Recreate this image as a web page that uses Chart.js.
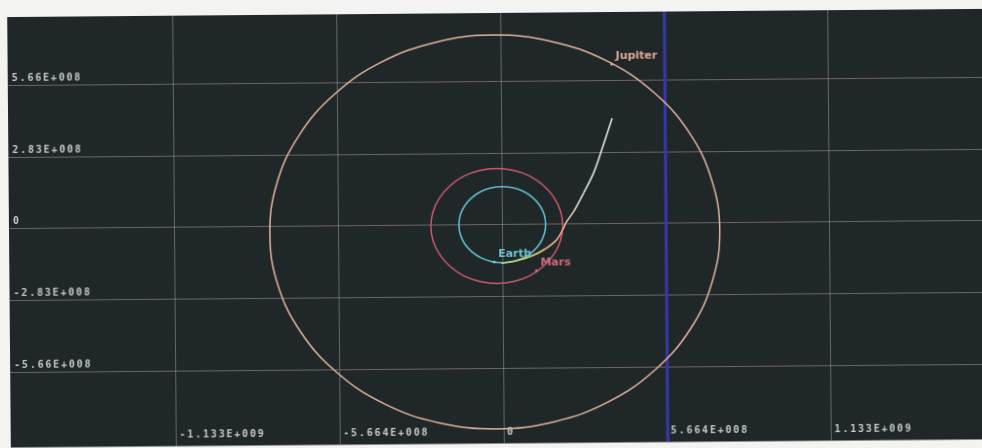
<!DOCTYPE html>
<html>
<head>
<meta charset="utf-8">
<script src="https://cdn.jsdelivr.net/npm/chart.js@4/dist/chart.umd.min.js"></script>
<style>
  html, body { margin: 0; padding: 0; background: #f3f3f1; width: 982px; height: 448px; overflow: hidden; }
  #orbits {
    position: absolute; left: 0; top: 0;
    transform: rotate(-0.48deg);
    transform-origin: 494px 228px;
  }
</style>
</head>
<body>
<canvas id="orbits" width="990" height="448"></canvas>
<script>
// Heliocentric ecliptic positions, in millions of km

// Axis ranges and tick marks
const xMin = -1706.3, xMax = 1686.9;
const yMin = -864.2, yMax = 836.2;
const xTickValues = [-1132.8, -566.4, 0, 566.4, 1132.8];
const xTickLabels = ['-1.133E+009', '-5.664E+008', '0', '5.664E+008', '1.133E+009'];
const yTickValues = [-566.4, -283.2, 0, 283.2, 566.4];
const yTickLabels = ['-5.66E+008', '-2.83E+008', '0', '2.83E+008', '5.66E+008'];

// Orbit of the Earth (the first and last points overlap the loop seam)
const earthOrbitX = [145, 150, 145, 130, 106, 75, 39, 0, -39, -75, -106, -130, -145, -150, -145, -130, -106, -75, -39, 0, 39, 75, 106, 130, 145, 150, 145];
const earthOrbitY = [-39, 0, 39, 75, 106, 130, 145, 150, 145, 130, 106, 75, 39, 0, -39, -75, -106, -130, -145, -150, -145, -130, -106, -75, -39, 0, 39];

// Orbit of Mars
const marsOrbitX = [201, 209, 201, 178, 142, 95, 40, -19, -78, -133, -180, -216, -239, -247, -239, -216, -180, -133, -78, -19, 40, 95, 142, 178, 201, 209, 201];
const marsOrbitY = [-64, -5, 54, 108, 155, 192, 214, 222, 214, 192, 155, 108, 54, -5, -64, -118, -165, -202, -224, -232, -224, -202, -165, -118, -64, -5, 54];

// Orbit of Jupiter
const jupiterOrbitX = [725, 752, 725, 648, 524, 363, 175, -26, -227, -415, -576, -700, -778, -804, -778, -700, -576, -415, -227, -26, 175, 363, 524, 648, 725, 752, 725];
const jupiterOrbitY = [-230, -29, 172, 360, 521, 645, 722, 749, 722, 645, 521, 360, 172, -29, -230, -418, -579, -703, -780, -807, -780, -703, -579, -418, -230, -29, 172];

// Spacecraft trajectory, leaving the Earth
const trajectoryX = [-5, 47, 99, 150, 189, 213, 220, 248, 283, 318, 347, 383];
const trajectoryY = [-152, -143, -126, -96, -60, -13, 5, 51, 124, 203, 295, 417];

// Current planet positions
const planetNames = ['Earth', 'Mars', 'Jupiter'];
const planetX = [-29, 117, 383];
const planetY = [-147, -183, 631];

// Reference meridian marker
const markerX = [566.4];

const toPoints = (xs, ys) => xs.map((x, i) => ({ x, y: ys[i] }));

const planetColors = ['#6cc3d2', '#d26a7a', '#e0a898'];
const trajectoryColors = ['#b8d878', '#d6e070', '#e8cc78', '#e8ae86', '#e8a084', '#e8b090',
                          '#e2d0b4', '#e0ddd2', '#e2e2da', '#e2e2da', '#e0e0d6', '#e0e0d6'];

// Closed orbit: hide the two overlapping seam segments so the curve joins smoothly
const orbitSegment = (color, n) => ({
  borderColor: c => (c.p0DataIndex === 0 || c.p1DataIndex === n - 1) ? 'rgba(0,0,0,0)' : color
});

const plotBackground = {
  id: 'plotBackground',
  beforeDraw(chart) {
    const { ctx, chartArea: a } = chart;
    ctx.save();
    ctx.fillStyle = '#1f2729';
    ctx.fillRect(a.left, a.top, a.right - a.left, a.bottom - a.top);
    ctx.restore();
    // wide-set tick lettering
    ctx.letterSpacing = '1.8px';
  }
};

const planetLabels = {
  id: 'planetLabels',
  afterDatasetsDraw(chart) {
    const meta = chart.getDatasetMeta(1);
    const ctx = chart.ctx;
    ctx.save();
    ctx.letterSpacing = '0px';
    ctx.font = 'bold 11px "DejaVu Sans"';
    ctx.textAlign = 'left';
    ctx.textBaseline = 'middle';
    meta.data.forEach((pt, i) => {
      ctx.fillStyle = planetColors[i];
      ctx.fillText(planetNames[i], pt.x + 4, pt.y - 8);
    });
    ctx.restore();
  }
};

const tickFont = { family: 'DejaVu Sans Mono', size: 10, weight: 'bold' };
const n = earthOrbitX.length;

new Chart(document.getElementById('orbits'), {
  type: 'scatter',
  data: {
    datasets: [
      {
        label: 'Trajectory',
        data: toPoints(trajectoryX, trajectoryY),
        showLine: true, tension: 0.35, borderWidth: 1.6, pointRadius: 0, hoverRadius: 0,
        borderColor: '#e0e0d6',
        segment: { borderColor: c => trajectoryColors[c.p0DataIndex] }
      },
      {
        label: 'Planets',
        data: toPoints(planetX, planetY),
        showLine: false, pointRadius: 1.5, hoverRadius: 0, borderWidth: 0,
        backgroundColor: planetColors
      },
      {
        label: 'Earth orbit',
        data: toPoints(earthOrbitX, earthOrbitY),
        showLine: true, tension: 0.4, borderWidth: 1.6, pointRadius: 0, hoverRadius: 0,
        borderColor: '#5fbccc', segment: orbitSegment('#5fbccc', n)
      },
      {
        label: 'Mars orbit',
        data: toPoints(marsOrbitX, marsOrbitY),
        showLine: true, tension: 0.4, borderWidth: 1.5, pointRadius: 0, hoverRadius: 0,
        borderColor: '#c85a6c', segment: orbitSegment('#c85a6c', n)
      },
      {
        label: 'Jupiter orbit',
        data: toPoints(jupiterOrbitX, jupiterOrbitY),
        showLine: true, tension: 0.4, borderWidth: 1.5, pointRadius: 0, hoverRadius: 0,
        borderColor: '#e6b29c', segment: orbitSegment('#e6b29c', n)
      },
      {
        label: 'Marker',
        data: [{ x: markerX[0], y: yMin }, { x: markerX[0], y: yMax }],
        showLine: true, borderWidth: 3, pointRadius: 0, hoverRadius: 0,
        borderColor: '#3838a8'
      }
    ]
  },
  options: {
    responsive: false,
    animation: false,
    devicePixelRatio: 1,
    layout: { autoPadding: false, padding: { left: 9, top: 13, right: 0, bottom: 4.5 } },
    plugins: { legend: { display: false }, tooltip: { enabled: false } },
    scales: {
      x: {
        type: 'linear', position: 'bottom', min: xMin, max: xMax,
        afterBuildTicks: s => { s.ticks = xTickValues.map(v => ({ value: v })); },
        afterFit: s => { s.height = 0; s.paddingLeft = 0; s.paddingRight = 0; s.paddingTop = 0; s.paddingBottom = 0; },
        border: { display: false },
        grid: { color: 'rgba(150,155,155,0.55)', lineWidth: 1, drawTicks: false },
        ticks: {
          mirror: true, align: 'start', padding: 5.5, labelOffset: 3,
          autoSkip: false, maxRotation: 0, minRotation: 0,
          color: '#c9c9c5', font: tickFont,
          callback: (v, i) => xTickLabels[i]
        }
      },
      y: {
        type: 'linear', position: 'left', min: yMin, max: yMax,
        afterBuildTicks: s => { s.ticks = yTickValues.map(v => ({ value: v })); },
        afterFit: s => { s.width = 0; s.paddingLeft = 0; s.paddingRight = 0; s.paddingTop = 0; s.paddingBottom = 0; },
        border: { display: false },
        grid: { color: 'rgba(175,150,150,0.55)', lineWidth: 1, drawTicks: false },
        ticks: {
          mirror: true, crossAlign: 'near', padding: 4, labelOffset: -7,
          autoSkip: false,
          color: '#c9c9c5', font: tickFont,
          callback: (v, i) => yTickLabels[i]
        }
      }
    }
  },
  plugins: [plotBackground, planetLabels]
});
</script>
</body>
</html>
